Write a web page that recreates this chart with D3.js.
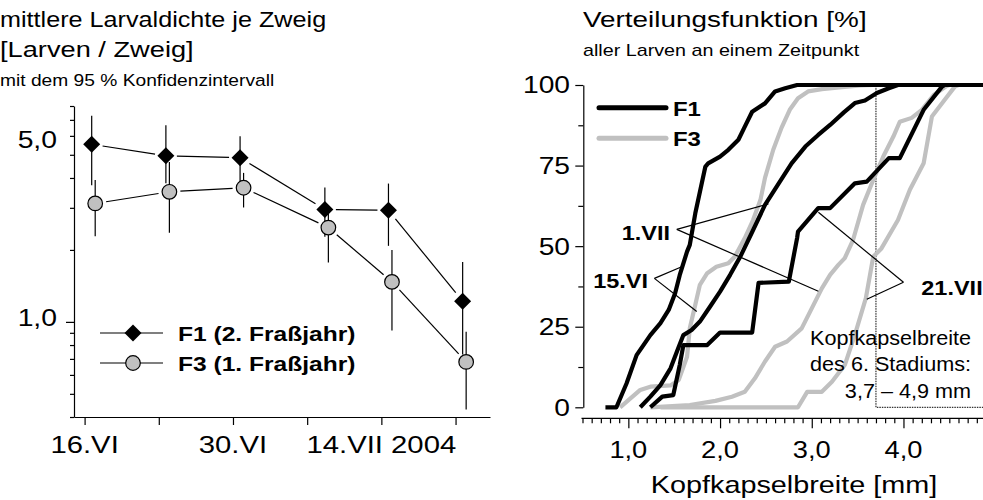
<!DOCTYPE html>
<html>
<head>
<meta charset="utf-8">
<script src="https://cdn.jsdelivr.net/npm/d3@7"></script>
<style>
  body { margin: 0; background: #fff; }
  text { font-family: "Liberation Sans", Arial, sans-serif; fill: #000; }
</style>
</head>
<body>
<div id="chart"></div>
<script>
var width = 983, height = 500;

// ---- left panel data: mean larvae per twig with 95 % CI ----
var sampleDates = ["2004-06-17", "2004-06-24", "2004-07-01", "2004-07-09", "2004-07-15", "2004-07-22"];
var f1Mean = [5.53, 4.95, 4.86, 2.95, 2.93, 1.22];
var f1Low  = [3.73, 3.80, 3.85, 2.27, 2.08, 0.73];
var f1High = [7.28, 6.65, 5.98, 3.65, 3.79, 1.78];
var f3Mean = [3.13, 3.50, 3.64, 2.48, 1.47, 0.68];
var f3Low  = [2.28, 2.36, 3.01, 1.77, 0.92, 0.43];
var f3High = [3.92, 4.67, 4.20, 3.02, 2.00, 0.91];
var dateTicks  = ["2004-06-16", "2004-06-23", "2004-06-30", "2004-07-07", "2004-07-14", "2004-07-21"];
var dateLabels = ["16.VI", "", "30.VI", "", "14.VII 2004", ""];
var densityTicks = [0.4, 0.5, 0.6, 0.7, 0.8, 0.9, 1, 2, 3, 4, 5, 6, 7, 8];
var densityLabels = [1, 5];

// ---- right panel data: cumulative distribution of head capsule width [mm, %] ----
var f1_15VI = [[0.75,0],[0.87,0],[0.98,7.4],[1.09,16.2],[1.24,22.4],[1.35,26.1],[1.44,30.2],[1.51,35.4],[1.56,41.0],
  [1.64,48.3],[1.67,50.4],[1.73,60.2],[1.84,74.7],[1.87,75.7],[2.0,77.8],[2.09,79.9],[2.2,83.0],[2.27,87.1],
  [2.35,91.7],[2.49,94.3],[2.6,98.0],[2.71,99.0],[2.84,100],[4.9,100]];
var f3_15VI = [[0.91,0],[1.13,5.4],[1.24,6.4],[1.46,6.8],[1.55,8.5],[1.64,15.7],[1.67,24.5],[1.73,31.8],[1.78,38.0],
  [1.86,41.6],[1.96,43.6],[2.09,44.7],[2.16,46.7],[2.27,52.5],[2.36,58.1],[2.44,64.3],[2.49,71.2],[2.58,79.9],
  [2.67,86.7],[2.76,92.3],[2.85,95.9],[2.96,98.0],[3.11,98.7],[3.33,99.3],[3.53,99.9],[3.67,100]];
var f1_1VII = [[1.13,0],[1.24,3.3],[1.35,6.9],[1.46,12.1],[1.53,17.3],[1.6,22.4],[1.69,24.0],[1.78,26.6],[1.89,31.2],
  [2.0,35.9],[2.11,41.1],[2.22,46.7],[2.35,54.4],[2.49,62.8],[2.64,69.5],[2.78,75.7],[2.93,80.9],[3.07,84.5],
  [3.2,87.6],[3.35,91.5],[3.47,94.4],[3.58,95.2],[3.71,97.5],[3.84,99.0],[3.94,100]];
var f3_1VII = [[1.24,0],[1.67,0.7],[1.95,2.0],[2.13,3.3],[2.27,4.8],[2.38,9.0],[2.49,14.2],[2.6,18.8],[2.73,20.4],
  [2.89,24.5],[3.0,30.7],[3.11,36.9],[3.2,41.1],[3.29,44.2],[3.36,46.3],[3.45,51.9],[3.56,62.8],[3.67,70.5],
  [3.78,77.8],[3.89,84.0],[3.96,88.6],[4.09,89.8],[4.2,92.3],[4.33,96.9],[4.47,99.7],[4.5,100]];
var f1_21VII = [[1.24,0],[1.37,3.3],[1.49,3.8],[1.56,13.1],[1.6,19.3],[1.86,19.3],[2.0,23.2],[2.35,23.2],[2.42,38.6],
  [2.75,39.0],[2.84,52.5],[2.85,54.5],[3.07,61.8],[3.2,61.8],[3.47,69.5],[3.6,70.0],[3.84,77.3],[3.96,77.3],
  [4.22,92.3],[4.42,99.5],[4.45,100]];
var f3_21VII = [[1.35,0],[2.85,0],[2.95,4.8],[3.11,4.8],[3.22,7.9],[3.36,13.1],[3.47,22.5],[3.59,33.9],[3.67,46.7],
  [3.76,49.3],[3.94,58.1],[4.07,67.5],[4.22,75.7],[4.31,90.2],[4.45,95.4],[4.56,99.5],[4.6,100]];

var mmTicks = d3.range(5, 50).map(function (d) { return d / 10; });
var mmMajor = [1, 2, 3, 4];
var pctTicks = [0, 12.5, 25, 37.5, 50, 62.5, 75, 87.5, 100];
var pctMajor = [0, 25, 50, 75, 100];

var svg = d3.select("#chart").append("svg")
    .attr("width", width)
    .attr("height", height);

function fmtComma(d) { return d3.format(".1f")(d).replace(".", ","); }

// the original lettering is a bit wider than Arial, so text gets a horizontal stretch
function label(g, x, y, str, size, sx, anchor, weight) {
  return g.append("text")
      .attr("transform", "scale(" + sx + ",1)")
      .attr("x", x / sx).attr("y", y)
      .attr("font-size", size)
      .attr("font-weight", weight || null)
      .attr("text-anchor", anchor || "start")
      .text(str);
}

// ================= left panel =================
var parseDay = d3.timeParse("%Y-%m-%d");
var xL = d3.scaleTime()
    .domain([parseDay("2004-06-15"), new Date(2004, 6, 24, 6)])
    .range([74, 490]);
var yL = d3.scaleLog().domain([0.4, 8]).range([417, 106]);

var gL = svg.append("g");

gL.append("g")
    .attr("transform", "translate(0,417)")
    .call(d3.axisBottom(xL)
        .tickValues(dateTicks.map(parseDay))
        .tickSize(8).tickSizeOuter(0).tickFormat(""));
dateTicks.forEach(function (d, i) {
  if (dateLabels[i]) label(gL, xL(parseDay(d)), 453, dateLabels[i], 24, 1.22, "middle");
});

var yAxisL = gL.append("g")
    .attr("transform", "translate(74,0)")
    .call(d3.axisLeft(yL).tickValues(densityTicks).tickSize(4).tickSizeOuter(0).tickFormat(""));
yAxisL.selectAll(".tick line").filter(function (d) { return d === 1; }).attr("x2", -8);
gL.selectAll("path.domain, .tick line").attr("stroke-width", 1.2);

// y labels (5,0 sits a bit high in the original)
densityLabels.forEach(function (d) {
  var shift = d === 5 ? -15 : -4;
  label(gL, 57, yL(d) + shift + 8.5, fmtComma(d), 24, 1.18, "end");
});

var diamond = "M0,-8.5L8.5,0L0,8.5L-8.5,0Z";

function seriesL(mean, low, high, dodge) {
  return sampleDates.map(function (s, i) {
    return { x: xL(parseDay(s)) + dodge, y: yL(mean[i]), lo: yL(low[i]), hi: yL(high[i]) };
  });
}
var f1Pts = seriesL(f1Mean, f1Low, f1High, -3.5);
var f3Pts = seriesL(f3Mean, f3Low, f3High, 0);

function drawSeriesL(pts, gap) {
  gL.append("g").selectAll("line").data(pts).enter().append("line")
      .attr("x1", function (d) { return d.x; }).attr("x2", function (d) { return d.x; })
      .attr("y1", function (d) { return d.hi; }).attr("y2", function (d) { return d.lo; })
      .attr("stroke", "#000").attr("stroke-width", 1.2);
  // connecting segments stop short of the markers
  var segs = d3.pairs(pts);
  gL.append("g").selectAll("line").data(segs).enter().append("line")
      .each(function (p) {
        var dx = p[1].x - p[0].x, dy = p[1].y - p[0].y, len = Math.sqrt(dx * dx + dy * dy);
        var ux = dx / len, uy = dy / len;
        d3.select(this)
            .attr("x1", p[0].x + ux * gap).attr("y1", p[0].y + uy * gap)
            .attr("x2", p[1].x - ux * gap).attr("y2", p[1].y - uy * gap);
      })
      .attr("stroke", "#000").attr("stroke-width", 1.2);
}
drawSeriesL(f3Pts, 11);
drawSeriesL(f1Pts, 11);

gL.append("g").selectAll("circle").data(f3Pts).enter().append("circle")
    .attr("cx", function (d) { return d.x; }).attr("cy", function (d) { return d.y; })
    .attr("r", 7.3).attr("fill", "#c0c0c0").attr("stroke", "#000").attr("stroke-width", 1.2);
gL.append("g").selectAll("path").data(f1Pts).enter().append("path")
    .attr("d", diamond)
    .attr("transform", function (d) { return "translate(" + d.x + "," + d.y + ")"; })
    .attr("fill", "#000");

// legend
var legL = gL.append("g");
[["F1 (2. Fraßjahr)", 333, "d"], ["F3 (1. Fraßjahr)", 363, "c"]].forEach(function (e) {
  legL.append("line").attr("x1", 100).attr("x2", 163).attr("y1", e[1]).attr("y2", e[1])
      .attr("stroke", "#000").attr("stroke-width", 1.2);
  if (e[2] === "d") {
    legL.append("path").attr("d", diamond).attr("transform", "translate(133," + e[1] + ")").attr("fill", "#000");
  } else {
    legL.append("circle").attr("cx", 133).attr("cy", e[1]).attr("r", 7.3)
        .attr("fill", "#c0c0c0").attr("stroke", "#000").attr("stroke-width", 1.2);
  }
  label(legL, 178, e[1] + 8, e[0], 21, 1.17, "start", "bold");
});

// titles
label(svg, 0, 27, "mittlere Larvaldichte je Zweig", 22.5, 1.12);
label(svg, 0, 57, "[Larven / Zweig]", 22.5, 1.21);
label(svg, 0, 86, "mit dem 95 % Konfidenzintervall", 17, 1.13);

// ================= right panel =================
var xR = d3.scaleLinear().domain([0.5, 4.9]).range([582.5, 986]);
var yR = d3.scaleLinear().domain([0, 100]).range([407.3, 85]);

var gR = svg.append("g");

// stage 6 box
gR.append("rect")
    .attr("x", xR(3.7)).attr("y", yR(100))
    .attr("width", xR(4.9) - xR(3.7)).attr("height", yR(0) - yR(100))
    .attr("fill", "none").attr("stroke", "#000").attr("stroke-width", 1)
    .attr("stroke-dasharray", "1.5,1");

var line = d3.line()
    .x(function (d) { return xR(d[0]); })
    .y(function (d) { return yR(d[1]); });

var curves = [
  { data: f3_15VI, color: "#c0c0c0" },
  { data: f3_1VII, color: "#c0c0c0" },
  { data: f3_21VII, color: "#c0c0c0" },
  { data: f1_15VI, color: "#000" },
  { data: f1_1VII, color: "#000" },
  { data: f1_21VII, color: "#000" }
];
gR.append("g").selectAll("path").data(curves).enter().append("path")
    .attr("d", function (c) { return line(c.data); })
    .attr("fill", "none")
    .attr("stroke", function (c) { return c.color; })
    .attr("stroke-width", 4.2)
    .attr("stroke-linejoin", "round");

// axes
var xAxisR = gR.append("g").attr("transform", "translate(0,418.3)")
    .call(d3.axisBottom(xR).tickValues(mmTicks).tickSize(5).tickSizeOuter(0).tickFormat(""));
xAxisR.selectAll(".tick line").filter(function (d) { return mmMajor.indexOf(d) >= 0; }).attr("y2", 10);
xAxisR.select("path.domain").attr("d", "M581.5,0H" + width);
mmMajor.forEach(function (d) { label(gR, xR(d), 458, fmtComma(d), 23.5, 1.16, "middle"); });

var yAxisR = gR.append("g").attr("transform", "translate(583.3,0)")
    .call(d3.axisLeft(yR).tickValues(pctTicks).tickSize(5).tickSizeOuter(0).tickFormat(""));
yAxisR.selectAll(".tick line").filter(function (d) { return pctMajor.indexOf(d) >= 0; }).attr("x2", -8);
pctMajor.forEach(function (d) { label(gR, 570, yR(d) + 8.5, String(d), 23.5, 1.2, "end"); });
gR.selectAll("path.domain, .tick line").attr("stroke-width", 1.2);

label(gR, 794, 493, "Kopfkapselbreite [mm]", 24, 1.2, "middle");

// legend
[["F1", "#000", 107.7], ["F3", "#c0c0c0", 138.3]].forEach(function (e) {
  gR.append("line").attr("x1", 599).attr("x2", 666).attr("y1", e[2]).attr("y2", e[2])
      .attr("stroke", e[1]).attr("stroke-width", 5).attr("stroke-linecap", "round");
  label(gR, 673, e[2] + 8, e[0], 21, 1.14, "start", "bold");
});

// date labels with leader lines (label end/start, apex, two targets in mm / %)
var labels = [
  { text: "15.VI", anchor: "end", at: [1.215, 37.0], apex: [1.284, 40.0], to: [[1.582, 43.6], [1.746, 29.7]] },
  { text: "1.VII", anchor: "end", at: [1.455, 51.9], apex: [1.528, 55.2], to: [[2.527, 63.1], [3.072, 36.0]] },
  { text: "21.VII", anchor: "start", at: [4.194, 34.9], apex: [4.0, 38.8], to: [[3.072, 60.5], [3.6, 33.5]] }
];
labels.forEach(function (l) {
  l.to.forEach(function (t) {
    gR.append("line")
        .attr("x1", xR(l.apex[0])).attr("y1", yR(l.apex[1]))
        .attr("x2", xR(t[0])).attr("y2", yR(t[1]))
        .attr("stroke", "#000").attr("stroke-width", 1.2);
  });
  label(gR, xR(l.at[0]), yR(l.at[1]), l.text, 21, 1.12, l.anchor, "bold");
});

var boxText = ["Kopfkapselbreite", "des 6. Stadiums:", "3,7 – 4,9 mm"];
boxText.forEach(function (t, i) { label(gR, 971, 345 + i * 26.5, t, 21, 1.03, "end"); });

label(svg, 583, 27, "Verteilungsfunktion [%]", 22.5, 1.24);
label(svg, 583, 56, "aller Larven an einem Zeitpunkt", 17, 1.16);
</script>
</body>
</html>
